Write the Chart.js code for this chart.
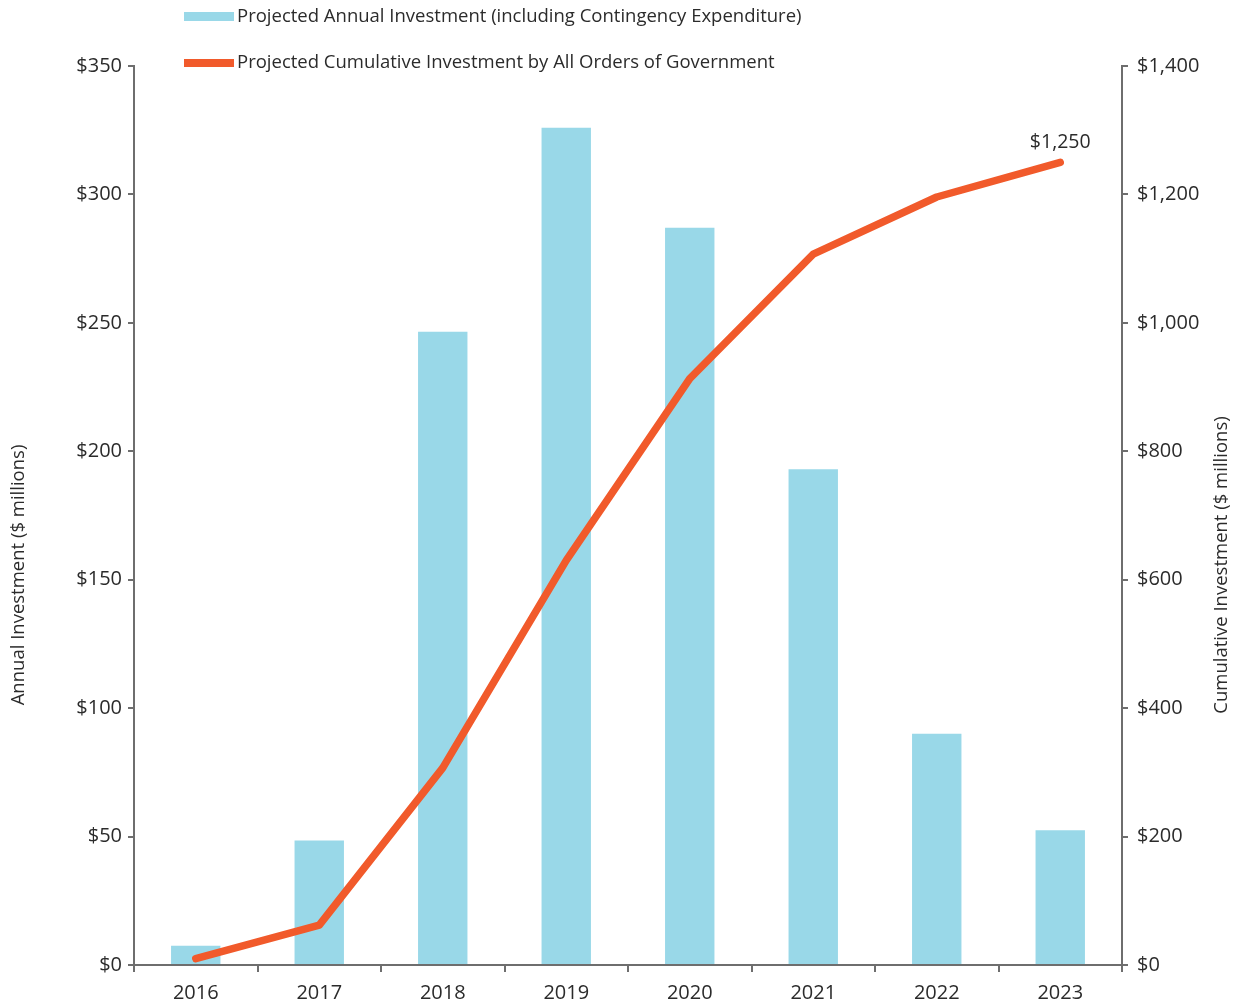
<!DOCTYPE html>
<html>
<head>
<meta charset="utf-8">
<script src="https://cdn.jsdelivr.net/npm/chart.js@4/dist/chart.umd.min.js"></script>
<style>
  html, body { margin: 0; padding: 0; background: #fff; }
  #wrap { width: 1239px; height: 1001px; position: relative; }
</style>
</head>
<body>
<div id="wrap"><canvas id="investChart"></canvas></div>
<script>
(function(){
  'use strict';

  // ---------- data ----------
  const years      = ['2016','2017','2018','2019','2020','2021','2022','2023'];
  const annual     = [7.5, 48.5, 246.5, 326, 287, 193, 90, 52.5];
  const cumulative = [10, 62, 307, 630, 913, 1107, 1196, 1250];
  const annualLabel = 'Projected Annual Investment (including Contingency Expenditure)';
  const cumulLabel  = 'Projected Cumulative Investment by All Orders of Government';
  const leftTitle   = 'Annual Investment ($ millions)';
  const rightTitle  = 'Cumulative Investment ($ millions)';

  const BAR_COLOR  = '#99d8e8';
  const LINE_COLOR = '#f15a2b';
  const AXIS_COLOR = '#6e6e6e';
  const TEXT_COLOR = '#2b2b2b';
  const FONT = '"Open Sans", "Noto Sans", sans-serif';

  const money = v => '$' + Number(v).toLocaleString('en-US');

  // legend, axis titles and the end label
  const extras = {
    id: 'extras',
    afterDraw(chart){
      const ctx = chart.ctx;
      ctx.save();
      ctx.font = '18.5px ' + FONT;
      ctx.fillStyle = TEXT_COLOR;
      ctx.textBaseline = 'middle';
      ctx.textAlign = 'left';

      // legend rows
      const ds = chart.data.datasets;
      ctx.fillStyle = ds[1].backgroundColor;
      ctx.fillRect(184, 12, 50, 9);
      ctx.fillStyle = TEXT_COLOR;
      ctx.fillText(ds[1].label, 237, 17);
      ctx.fillStyle = ds[0].borderColor;
      ctx.fillRect(184, 59, 50, 8);
      ctx.fillStyle = TEXT_COLOR;
      ctx.fillText(ds[0].label, 237, 63);

      // axis titles
      ctx.textAlign = 'center';
      ctx.save();
      ctx.translate(19, 575);
      ctx.rotate(-Math.PI/2);
      ctx.fillText(leftTitle, 0, 0);
      ctx.restore();
      ctx.save();
      ctx.translate(1222, 565);
      ctx.rotate(-Math.PI/2);
      ctx.fillText(rightTitle, 0, 0);
      ctx.restore();

      // value label at the last point of the cumulative line
      const meta = chart.getDatasetMeta(0);
      const last = meta.data[meta.data.length - 1];
      ctx.font = '19.5px ' + FONT;
      ctx.textBaseline = 'alphabetic';
      ctx.fillText(money(cumulative[cumulative.length - 1]), last.x, last.y - 14);
      ctx.restore();
    }
  };

  const tickFont = { size: 20, family: FONT };

  const ctx = document.getElementById('investChart').getContext('2d');
  new Chart(ctx, {
    data: {
      labels: years,
      datasets: [
        {
          type: 'line',
          label: cumulLabel,
          data: cumulative,
          yAxisID: 'y2',
          borderColor: LINE_COLOR,
          backgroundColor: LINE_COLOR,
          borderWidth: 7.5,
          borderCapStyle: 'round',
          borderJoinStyle: 'round',
          pointRadius: 0,
          tension: 0,
          order: 0
        },
        {
          type: 'bar',
          label: annualLabel,
          data: annual,
          yAxisID: 'y',
          backgroundColor: BAR_COLOR,
          categoryPercentage: 1,
          barPercentage: 0.4,
          order: 1
        }
      ]
    },
    options: {
      responsive: true,
      maintainAspectRatio: false,
      animation: false,
      layout: { padding: { top: 66, left: 0, right: 0, bottom: 0 } },
      plugins: { legend: { display: false }, tooltip: { enabled: false } },
      scales: {
        x: {
          offset: true,
          grid: { display: true, drawOnChartArea: false, drawTicks: true, tickLength: 7, offset: true, color: AXIS_COLOR, lineWidth: 2 },
          border: { display: true, color: AXIS_COLOR, width: 2 },
          ticks: { color: TEXT_COLOR, font: tickFont, padding: 9, maxRotation: 0 },
          afterFit: s => { s.height = 36; }
        },
        y: {
          position: 'left',
          min: 0, max: 350,
          grid: { display: true, drawOnChartArea: false, drawTicks: true, tickLength: 6, color: AXIS_COLOR, lineWidth: 2 },
          border: { display: true, color: AXIS_COLOR, width: 2 },
          ticks: { stepSize: 50, color: TEXT_COLOR, font: tickFont, padding: 6, callback: v => money(v) },
          afterFit: s => { s.width = 134; }
        },
        y2: {
          position: 'right',
          min: 0, max: 1400,
          grid: { display: true, drawOnChartArea: false, drawTicks: true, tickLength: 6, color: AXIS_COLOR, lineWidth: 2 },
          border: { display: true, color: AXIS_COLOR, width: 2 },
          ticks: { stepSize: 200, color: TEXT_COLOR, font: tickFont, padding: 9, callback: v => money(v) },
          afterFit: s => { s.width = 117; }
        }
      }
    },
    plugins: [extras]
  });
})();
</script>
</body>
</html>
